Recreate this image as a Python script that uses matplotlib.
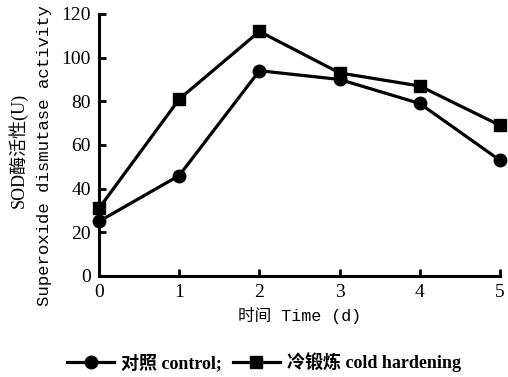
import matplotlib
matplotlib.use("Agg")
from matplotlib import pyplot as plt

days = [0, 1, 2, 3, 4, 5]
control = [25, 46, 94, 90, 79, 53]
cold_hardening = [31, 81, 112, 93, 87, 69]
y_ticks = [0, 20, 40, 60, 80, 100, 120]

serif = ['Liberation Serif', 'Noto Sans CJK SC']
mono = ['Liberation Mono', 'Noto Sans CJK SC']

fig = plt.figure(figsize=(5.08, 3.77), dpi=100)
ax = fig.add_axes([0.195, 0.268, 0.789, 0.695])

ax.plot(days, control, color='black', lw=2.3, marker='o', ms=9,
        label='对照 control;', clip_on=False, zorder=3)
ax.plot(days, cold_hardening, color='black', lw=2.3, marker='s', ms=8,
        label='冷锻炼 cold hardening', clip_on=False, zorder=3)

ax.set_xlim(0, 5)
ax.set_ylim(0, 120)
ax.set_xticks(days)
ax.set_yticks(y_ticks)
for s in ['top', 'right']:
    ax.spines[s].set_visible(False)
for s in ['left', 'bottom']:
    ax.spines[s].set_linewidth(2.2)
ax.tick_params(direction='in', length=5, width=2, pad=6)
for lab in ax.get_xticklabels() + ax.get_yticklabels():
    lab.set_family(serif)
    lab.set_fontsize(14)

ax.set_xlabel('时间 Time (d)', family=mono, fontsize=12, labelpad=4)
ax.set_ylabel('Superoxide dismutase activity', family=mono, fontsize=12.5)
ax.yaxis.set_label_coords(-0.118, 0.46)
fig.text(0.036, 0.6, 'SOD酶活性(U)', rotation=90, family=serif,
         fontsize=13, ha='center', va='center')

fig.legend(loc='center', bbox_to_anchor=(0.52, 0.04), ncol=2, frameon=False,
           handlelength=2.6, columnspacing=0.6, handletextpad=0.4,
           prop={'family': serif, 'size': 13, 'weight': 'semibold'})

fig.savefig('out.png', dpi=100)
